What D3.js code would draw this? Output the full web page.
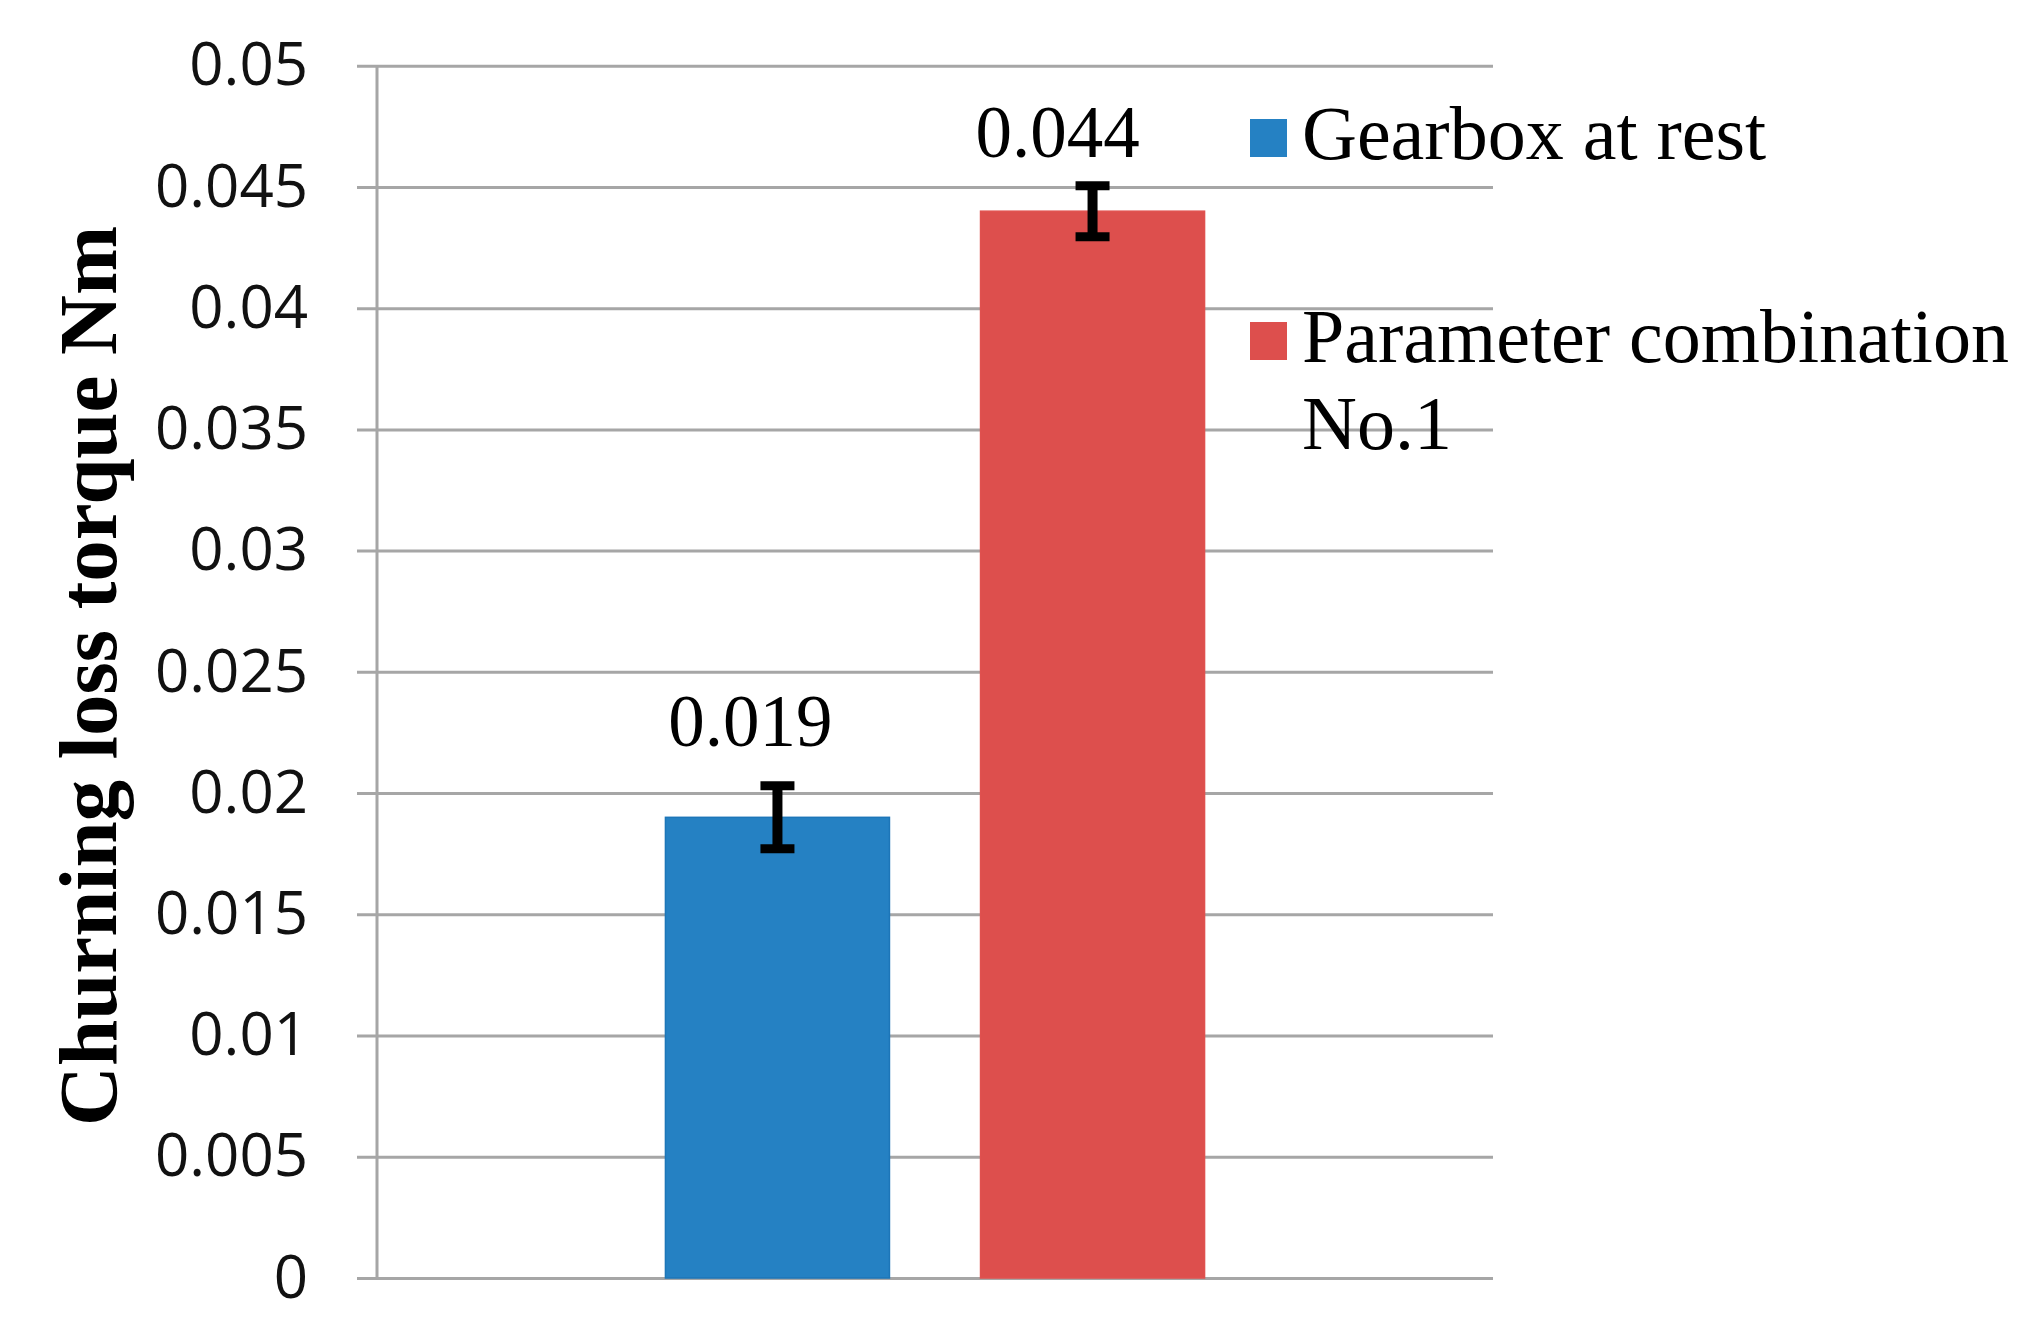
<!DOCTYPE html>
<html>
<head>
<meta charset="utf-8">
<script src="https://cdn.jsdelivr.net/npm/d3@7"></script>
<style>
  body { margin: 0; background: #fff; }
  svg { display: block; }
</style>
</head>
<body>
<div id="chart"></div>
<script>
// chart values
const categories = [""];
const seriesNames = ["Gearbox at rest", "Parameter combination No.1"];
const legendLines = [["Gearbox at rest"], ["Parameter combination", "No.1"]];
const seriesValues = [0.019, 0.044];
const seriesErrors = [0.0013, 0.00105];
const valueLabels = ["0.019", "0.044"];
const yTicks = [0, 0.005, 0.01, 0.015, 0.02, 0.025, 0.03, 0.035, 0.04, 0.045, 0.05];
const yTickLabels = ["0", "0.005", "0.01", "0.015", "0.02", "0.025", "0.03", "0.035", "0.04", "0.045", "0.05"];
const yTitle = "Churning loss torque Nm";

const colors = ["#2581c3", "#dd4f4d"];
const edgeColors = ["#1d76b8", "#e0514f"];
const labelShift = [[-27, -71], [-35, -54]];   // manual label placement like the original

const width = 2041, height = 1341;
const margin = { top: 65.7, right: 548, bottom: 63, left: 377 };
const gridColor = "#a6a6a6";

const svg = d3.select("#chart").append("svg")
    .attr("width", width)
    .attr("height", height)
    .attr("viewBox", [0, 0, width, height])
    .style("background", "#fff");

const y = d3.scaleLinear()
    .domain([0, 0.05])
    .range([height - margin.bottom, margin.top]);

const x0 = d3.scaleBand()
    .domain(categories)
    .range([margin.left, width - margin.right])
    .paddingInner(0)
    .paddingOuter(0.535);

const x1 = d3.scaleBand()
    .domain(seriesNames)
    .range([0, x0.bandwidth()])
    .paddingInner(0.289)
    .paddingOuter(0);

const rows = seriesNames.map((name, i) => ({
    name, value: seriesValues[i], err: seriesErrors[i], label: valueLabels[i], i
}));

// grid lines (start 20px left of the axis, like tick marks)
svg.append("g")
    .attr("transform", `translate(${margin.left - 20},0)`)
    .call(d3.axisRight(y).tickValues(yTicks).tickSize(width - margin.right - margin.left + 20).tickFormat(""))
    .call(g => g.select(".domain").remove())
    .call(g => g.selectAll(".tick line").attr("stroke", gridColor).attr("stroke-width", 3));

// tick labels
svg.append("g")
    .attr("transform", `translate(${margin.left},0)`)
    .call(d3.axisLeft(y).tickValues(yTicks).tickSize(0).tickPadding(69)
        .tickFormat((d, i) => yTickLabels[i]))
    .call(g => g.select(".domain").remove())
    .call(g => g.selectAll(".tick text")
        .attr("font-family", "'Open Sans', sans-serif")
        .attr("font-size", 60)
        .attr("fill", "#111"));

// vertical axis line
svg.append("line")
    .attr("x1", margin.left).attr("x2", margin.left)
    .attr("y1", y(0.05)).attr("y2", y(0))
    .attr("stroke", gridColor).attr("stroke-width", 3);

// bars
const group = svg.append("g").attr("transform", `translate(${x0(categories[0])},0)`);

group.selectAll("rect")
    .data(rows)
    .join("rect")
    .attr("x", d => x1(d.name))
    .attr("y", d => y(d.value))
    .attr("width", x1.bandwidth())
    .attr("height", d => y(0) - y(d.value))
    .attr("fill", d => colors[d.i])
    .attr("stroke", d => edgeColors[d.i])
    .attr("stroke-width", 1.5);

// error bars
const capHalf = 17;
const err = group.selectAll("g.err")
    .data(rows)
    .join("g")
    .attr("class", "err")
    .attr("stroke", "#000");

err.append("line")
    .attr("x1", d => x1(d.name) + x1.bandwidth() / 2)
    .attr("x2", d => x1(d.name) + x1.bandwidth() / 2)
    .attr("y1", d => y(d.value + d.err))
    .attr("y2", d => y(d.value - d.err))
    .attr("stroke-width", 10);

err.selectAll("line.cap")
    .data(d => [d.value + d.err, d.value - d.err].map(v => ({ v, d })))
    .join("line")
    .attr("class", "cap")
    .attr("x1", c => x1(c.d.name) + x1.bandwidth() / 2 - capHalf)
    .attr("x2", c => x1(c.d.name) + x1.bandwidth() / 2 + capHalf)
    .attr("y1", c => y(c.v))
    .attr("y2", c => y(c.v))
    .attr("stroke-width", 9);

// value labels
group.selectAll("text.val")
    .data(rows)
    .join("text")
    .attr("class", "val")
    .attr("x", d => x1(d.name) + x1.bandwidth() / 2 + labelShift[d.i][0])
    .attr("y", d => y(d.value) + labelShift[d.i][1])
    .attr("text-anchor", "middle")
    .attr("font-family", "'Liberation Serif', 'Times New Roman', serif")
    .attr("font-size", 73)
    .attr("fill", "#000")
    .text(d => d.label);

// y axis title
svg.append("text")
    .attr("transform", `translate(116,${(y(0.05) + y(0)) / 2 + 4}) rotate(-90)`)
    .attr("text-anchor", "middle")
    .attr("font-family", "'Liberation Serif', 'Times New Roman', serif")
    .attr("font-weight", "bold")
    .attr("font-size", 83)
    .attr("fill", "#000")
    .text(yTitle);

// legend
const legendX = 1250, legendY = [159, 362], lineGap = 87;
const legend = svg.append("g");
const items = legend.selectAll("g")
    .data(rows)
    .join("g")
    .attr("transform", d => `translate(${legendX},${legendY[d.i]})`);

items.append("rect")
    .attr("x", 0).attr("y", -40)
    .attr("width", 37).attr("height", 38)
    .attr("fill", d => colors[d.i]);

items.append("text")
    .attr("font-family", "'Liberation Serif', 'Times New Roman', serif")
    .attr("font-size", 76)
    .attr("fill", "#000")
    .selectAll("tspan")
    .data(d => legendLines[d.i])
    .join("tspan")
    .attr("x", 52)
    .attr("y", (t, k) => k * lineGap)
    .text(t => t);
</script>
</body>
</html>
